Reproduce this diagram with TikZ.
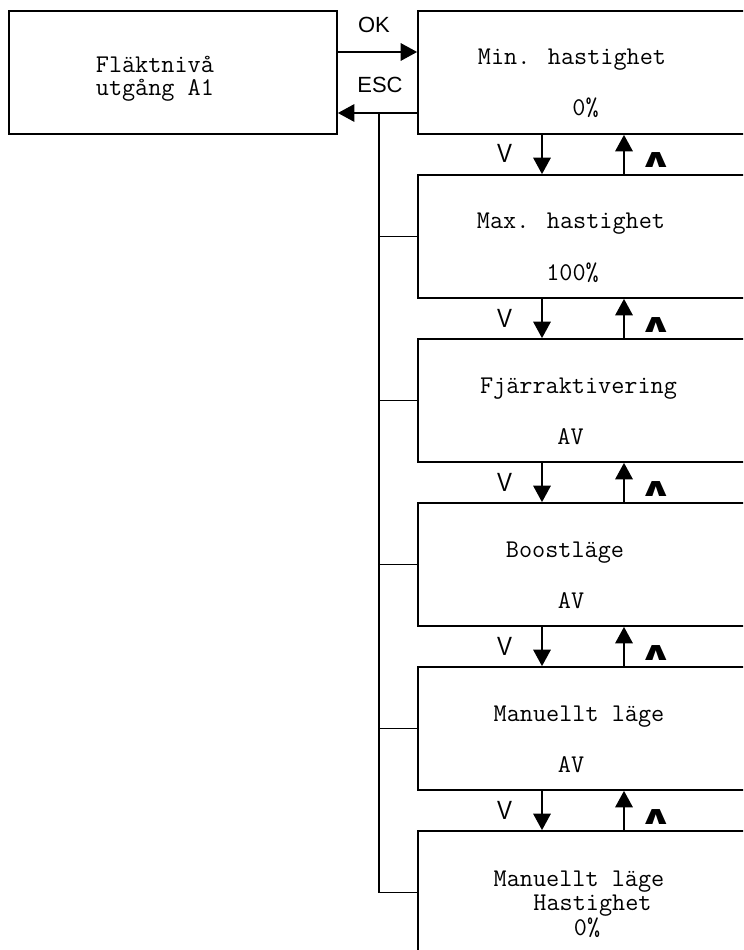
\documentclass[tikz,border=0pt]{standalone}
\usepackage{fontspec}
\setmainfont{Liberation Sans}
\newfontfamily\symfont{DejaVu Sans}
\usepackage{tikz}
\usetikzlibrary{arrows.meta,positioning,calc}

\begin{document}
\begin{tikzpicture}[
    line width=1pt,
    box/.style={draw, minimum width=6.56cm, minimum height=2.46cm, inner sep=0pt},
    item/.style={draw, minimum width=8cm, minimum height=2.46cm, inner sep=0pt},
    txt/.style={font=\ttfamily\fontsize{14.5}{13.1}\selectfont, inner sep=0pt},
    key/.style={font=\fontsize{12.5}{14}\selectfont, inner sep=0pt, anchor=base},
    arrow/.style={-{Triangle[length=3.3mm, width=3.5mm]}},
    dnlbl/.style={font=\fontsize{15}{16}\selectfont, inner sep=0pt, anchor=base east, xshift=-0.58cm, yshift=-0.17cm},
    uplbl/.style={font=\symfont\bfseries\fontsize{14}{14}\selectfont, inner sep=0pt, anchor=base west, xshift=0.28cm, yshift=-0.27cm}
]
    \clip (0,0) rectangle (14.86,-19);

    % main menu entry
    \node[box] (menu) at (3.46,-1.45) {};
    \node[txt, align=left, anchor=west] (menutxt) at (1.9,-1.58) {Fläktnivå\\utgång A1};

    % sub menu
    \node[item] (b1) at (12.36,-1.45) {};
    \node[item] (b2) at (12.36,-4.73) {};
    \node[item] (b3) at (12.36,-8.01) {};
    \node[item] (b4) at (12.36,-11.29) {};
    \node[item] (b5) at (12.36,-14.57) {};
    \node[item] (b6) at (12.36,-17.85) {};

    \node[txt, anchor=base] (t1) at (11.44,-1.30) {Min. hastighet};
    \node[txt, anchor=base] (v1) at (11.71,-2.32) {0\%};
    \node[txt, anchor=base] (t2) at (11.42,-4.58) {Max. hastighet};
    \node[txt, anchor=base] (v2) at (11.45,-5.60) {100\%};
    \node[txt, anchor=base] (t3) at (11.57,-7.86) {Fjärraktivering};
    \node[txt, anchor=base] (v3) at (11.41,-8.88) {AV};
    \node[txt, anchor=base] (t4) at (11.30,-11.14) {Boostläge};
    \node[txt, anchor=base] (v4) at (11.42,-12.16) {AV};
    \node[txt, anchor=base] (t5) at (11.58,-14.42) {Manuellt läge};
    \node[txt, anchor=base] (v5) at (11.42,-15.44) {AV};
    \node[txt, anchor=base] (t6) at (11.58,-17.72) {Manuellt läge};
    \node[txt, anchor=base] (h6) at (11.85,-18.20) {Hastighet};
    \node[txt, anchor=base] (v6) at (11.74,-18.70) {0\%};

    % OK / ESC
    \coordinate (oky) at (0,-1.04);
    \coordinate (escy) at (0,-2.26);
    \coordinate (bus) at (7.58,-2.26);
    \draw[arrow] (menu.east |- oky) -- (b1.west |- oky);
    \draw[arrow] (b1.west |- escy) -- (menu.east |- escy);
    \node[key] (ok) at (7.48,-0.66) {OK};
    \node[key] (esc) at (7.60,-1.86) {ESC};

    \draw (bus) |- (b6.west);
    \foreach \i in {2,...,5}
        \draw (bus |- b\i.west) -- (b\i.west);

    % up / down
    \coordinate (dn) at (10.84,0);
    \coordinate (up) at (12.48,0);
    \foreach \a/\b in {b1/b2,b2/b3,b3/b4,b4/b5,b5/b6} {
        \draw[arrow] (\a.south -| dn) -- node[dnlbl] {\scalebox{0.85}[1]{V}} (\b.north -| dn);
        \draw[arrow] (\b.north -| up) -- node[uplbl] {\scalebox{1.7}[1.05]{∧}} (\a.south -| up);
    }
\end{tikzpicture}
\end{document}
